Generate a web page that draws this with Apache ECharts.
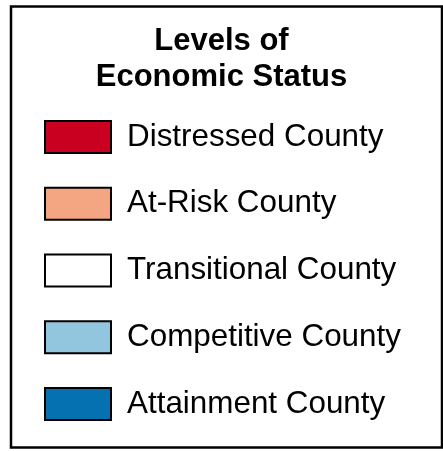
<!DOCTYPE html>
<html>
<head>
<meta charset="utf-8">
<title>Levels of Economic Status</title>
<script src="https://cdn.jsdelivr.net/npm/echarts@6/dist/echarts.min.js"></script>
<style>
    html, body { margin: 0; padding: 0; background: #fff; }
    #chart { width: 443px; height: 451px; }
</style>
</head>
<body>
<div id="chart"></div>
<script>
// 图例分类和颜色
var levels = ["Distressed County", "At-Risk County", "Transitional County", "Competitive County", "Attainment County"];
var levelColors = ["#ca0020", "#f4a582", "#ffffff", "#92c5de", "#0571b0"];
var titleLines = ["Levels of", "Economic Status"];

var myChart = echarts.init(document.getElementById('chart'));

// 每个分类一个空的series，只用来生成图例
var series = [];
for (var i = 0; i < levels.length; i++) {
    series.push({
        type: 'scatter',
        name: levels[i],
        data: [],
        itemStyle: { color: levelColors[i], opacity: 1 }
    });
}

var option = {
    backgroundColor: '#fff',
    animation: false,
    title: {
        text: titleLines.join('\n'),
        left: 'center',
        top: 23,
        padding: 0,
        textStyle: {
            fontFamily: 'Liberation Sans, Arial, sans-serif',
            fontWeight: 'bold',
            fontSize: 31,
            lineHeight: 36,
            color: '#000'
        }
    },
    grid: { show: false },
    xAxis: { show: false },
    yAxis: { show: false },
    legend: {
        orient: 'vertical',
        left: 44,
        top: 120,
        padding: 0,
        itemWidth: 66,
        itemHeight: 32,
        itemGap: 32.75,
        icon: 'rect',
        selectedMode: false,
        data: levels,
        itemStyle: {
            borderColor: '#000',
            borderWidth: 2,
            opacity: 1
        },
        textStyle: {
            fontFamily: 'Liberation Sans, Arial, sans-serif',
            fontSize: 31.4,
            lineHeight: 32,
            color: '#000',
            padding: [0, 0, 0, 11]
        }
    },
    // 外框
    graphic: [{
        type: 'rect',
        shape: { x: 11, y: 6.5, width: 431, height: 441 },
        style: { fill: 'none', stroke: '#000', lineWidth: 2.5 }
    }],
    series: series
};

myChart.setOption(option);
</script>
</body>
</html>
